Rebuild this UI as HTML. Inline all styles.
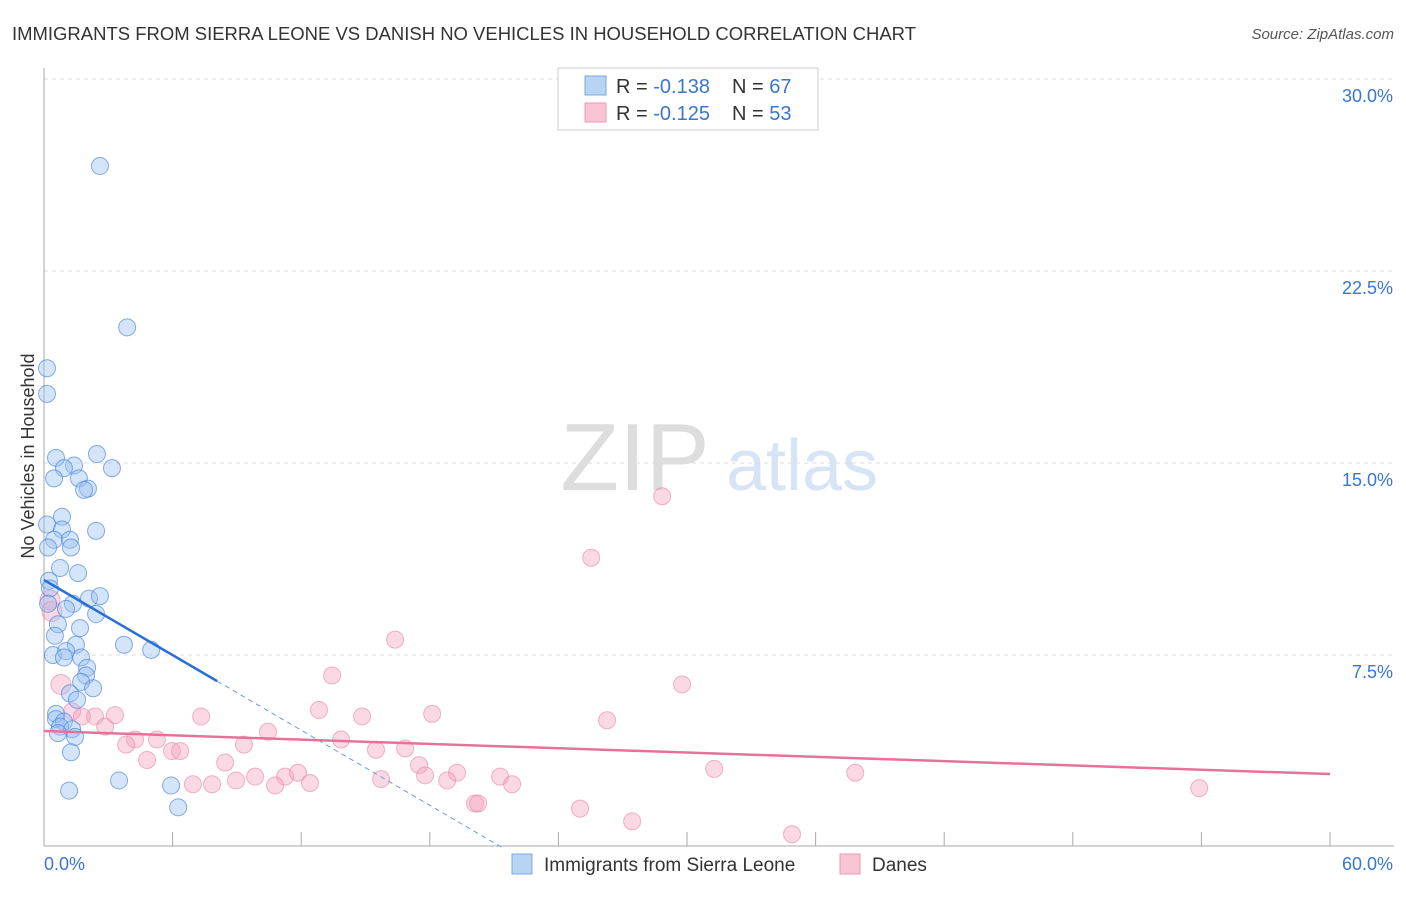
<!DOCTYPE html>
<html><head><meta charset="utf-8"><style>
body{margin:0;background:#fff;font-family:"Liberation Sans",sans-serif;}
svg text{font-family:"Liberation Sans",sans-serif;}
</style></head><body>
<svg id="chart" width="1406" height="892" viewBox="0 0 1406 892" xmlns="http://www.w3.org/2000/svg">
<text x="12" y="40" font-size="18" fill="#333" textLength="904" lengthAdjust="spacingAndGlyphs">IMMIGRANTS FROM SIERRA LEONE VS DANISH NO VEHICLES IN HOUSEHOLD CORRELATION CHART</text>
<text x="1394" y="39" font-size="15" fill="#555" font-style="italic" text-anchor="end">Source: ZipAtlas.com</text>
<g>
<text x="635" y="490" font-size="96" fill="#ddd" font-family="Liberation Serif" text-anchor="middle">ZIP</text>
<text x="802" y="490" font-size="72" fill="#d6e4f5" text-anchor="middle">atlas</text>
</g>
<g id="grid"></g>
<g id="axes"></g>
<g id="marks"></g>
<g>
<rect x="558" y="68" width="260" height="62" fill="#fff" stroke="#ccc"/>
<rect x="585" y="76" width="21" height="19" fill="#b8d4f5" stroke="#7aa8e0"/>
<rect x="585" y="103" width="21" height="19" fill="#f9c4d4" stroke="#eb9ab4"/>
<text x="616" y="93" font-size="20" fill="#333">R = <tspan fill="#3a76d0">-0.138</tspan></text>
<text x="732" y="93" font-size="20" fill="#333">N = <tspan fill="#3a76d0">67</tspan></text>
<text x="616" y="120" font-size="20" fill="#333">R = <tspan fill="#3a76d0">-0.125</tspan></text>
<text x="732" y="120" font-size="20" fill="#333">N = <tspan fill="#3a76d0">53</tspan></text>
</g>
<g>
<rect x="512" y="854" width="20" height="20" fill="#b8d4f5" stroke="#7aa8e0"/>
<text x="544" y="871" font-size="19" fill="#333">Immigrants from Sierra Leone</text>
<rect x="840" y="854" width="20" height="20" fill="#f9c4d4" stroke="#eb9ab4"/>
<text x="872" y="871" font-size="19" fill="#333">Danes</text>
</g>
<text transform="translate(34,456) rotate(-90)" font-size="18" fill="#333" text-anchor="middle">No Vehicles in Household</text>
</svg>
<script>
const yTicks=[7.5,15,22.5,30];
const yTickLabels=["7.5%","15.0%","22.5%","30.0%"];
const xTicks=[0,6,12,18,24,30,36,42,48,54,60];
const blueX=[2.61,3.88,0.14,0.14,0.56,2.47,1.40,0.93,3.17,0.47,1.63,2.05,1.87,0.84,0.14,0.84,2.43,0.47,1.21,1.26,0.19,0.75,1.59,0.23,0.28,2.10,2.61,1.35,1.03,0.19,2.43,0.65,1.68,0.51,1.49,3.73,5.0,0.42,1.03,0.93,1.73,2.01,1.96,1.73,2.29,1.21,1.54,0.56,0.56,0.93,0.75,1.31,0.65,1.45,1.26,3.50,5.93,1.17,6.26];
const blueY=[26.6,20.3,18.7,17.7,15.2,15.35,14.9,14.8,14.8,14.4,14.4,14.0,13.95,12.9,12.6,12.4,12.35,12.0,12.0,11.7,11.7,10.9,10.7,10.4,10.1,9.7,9.8,9.5,9.3,9.5,9.1,8.7,8.55,8.25,7.9,7.9,7.7,7.5,7.65,7.4,7.4,7.0,6.7,6.45,6.2,6.0,5.75,5.2,5.0,4.9,4.7,4.6,4.45,4.3,3.7,2.6,2.4,2.2,1.55];
const pinkX=[28.84,25.53,16.38,13.44,29.77,0.79,12.83,3.31,7.33,14.84,18.11,1.31,2.38,1.77,26.27,2.85,10.45,13.86,4.25,5.27,3.83,9.33,16.85,15.49,5.97,6.35,4.81,8.45,17.5,31.27,9.85,19.27,11.25,11.85,17.78,15.73,21.28,37.85,8.96,7.84,6.95,10.78,12.41,18.81,21.84,20.11,20.25,25.01,53.9,27.44,34.9,0.28,0.37];
const pinkY=[13.7,11.3,8.1,6.7,6.35,6.35,5.35,5.15,5.1,5.1,5.2,5.3,5.1,5.1,4.95,4.7,4.5,4.2,4.2,4.2,4.0,4.0,3.85,3.8,3.75,3.75,3.4,3.3,3.2,3.05,2.75,2.9,2.75,2.9,2.8,2.65,2.75,2.9,2.6,2.45,2.45,2.4,2.5,2.6,2.45,1.7,1.7,1.5,2.3,1.0,0.5,9.65,9.2];
const blueTrend=[10.43,-0.489];
const pinkTrend=[4.53,-0.028];
const X=v=>44+v/60*1286;
const Y=v=>847-v/7.5*192;
const NS="http://www.w3.org/2000/svg";
function mk(p,t,a){const e=document.createElementNS(NS,t);for(const k in a)e.setAttribute(k,a[k]);p.appendChild(e);return e;}
const grid=document.getElementById('grid'),axes=document.getElementById('axes'),marks=document.getElementById('marks');
yTicks.forEach((t,i)=>{
 const l=mk(grid,'line',{x1:44,x2:1394,y1:Y(t),y2:Y(t),stroke:'#ddd','stroke-dasharray':'4,4'});
 
 
 const tx=mk(axes,'text',{x:1393,y:Y(t)+23,'font-size':18,fill:'#3a76d0','text-anchor':'end'});
 tx.textContent=yTickLabels[i];
 
 
});
const ya=mk(axes,'line',{x1:44,x2:44,y1:68,y2:846,stroke:'#aaa'});


const xa=mk(axes,'line',{x1:44,x2:1394,y1:846,y2:846,stroke:'#aaa'});


xTicks.forEach(t=>{
 const l=mk(axes,'line',{x1:X(t),x2:X(t),y1:832,y2:846,stroke:'#aaa'});
 
 
});
const x0=mk(axes,'text',{x:44,y:870,'font-size':18,fill:'#3a76d0'});x0.textContent='0.0%';


const x1=mk(axes,'text',{x:1393,y:870,'font-size':18,fill:'#3a76d0','text-anchor':'end'});x1.textContent='60.0%';


pinkX.forEach((v,i)=>{
 const c=mk(marks,'circle',{cx:X(v),cy:Y(pinkY[i]),r:(v<1?10:8.5),fill:'rgba(245,160,188,0.4)',stroke:'rgba(235,130,165,0.6)','stroke-width':1});
 
 
});
blueX.forEach((v,i)=>{
 const c=mk(marks,'circle',{cx:X(v),cy:Y(blueY[i]),r:8.5,fill:'rgba(150,190,240,0.4)',stroke:'rgba(70,130,215,0.65)','stroke-width':1});
 
 
});
const bEnd=8.08,bZero=-blueTrend[0]/blueTrend[1];
const bl=mk(marks,'line',{x1:X(0),y1:Y(blueTrend[0]),x2:X(bEnd),y2:Y(blueTrend[0]+blueTrend[1]*bEnd),stroke:'#2a6fd6','stroke-width':2.5});


const bd=mk(marks,'line',{x1:X(bEnd),y1:Y(blueTrend[0]+blueTrend[1]*bEnd),x2:X(bZero),y2:Y(0),stroke:'#6a9be0','stroke-width':1,'stroke-dasharray':'5,4'});


const pl=mk(marks,'line',{x1:X(0),y1:Y(pinkTrend[0]),x2:X(60),y2:Y(pinkTrend[0]+pinkTrend[1]*60),stroke:'#e8719a','stroke-width':2.5});


</script>
</body></html>
